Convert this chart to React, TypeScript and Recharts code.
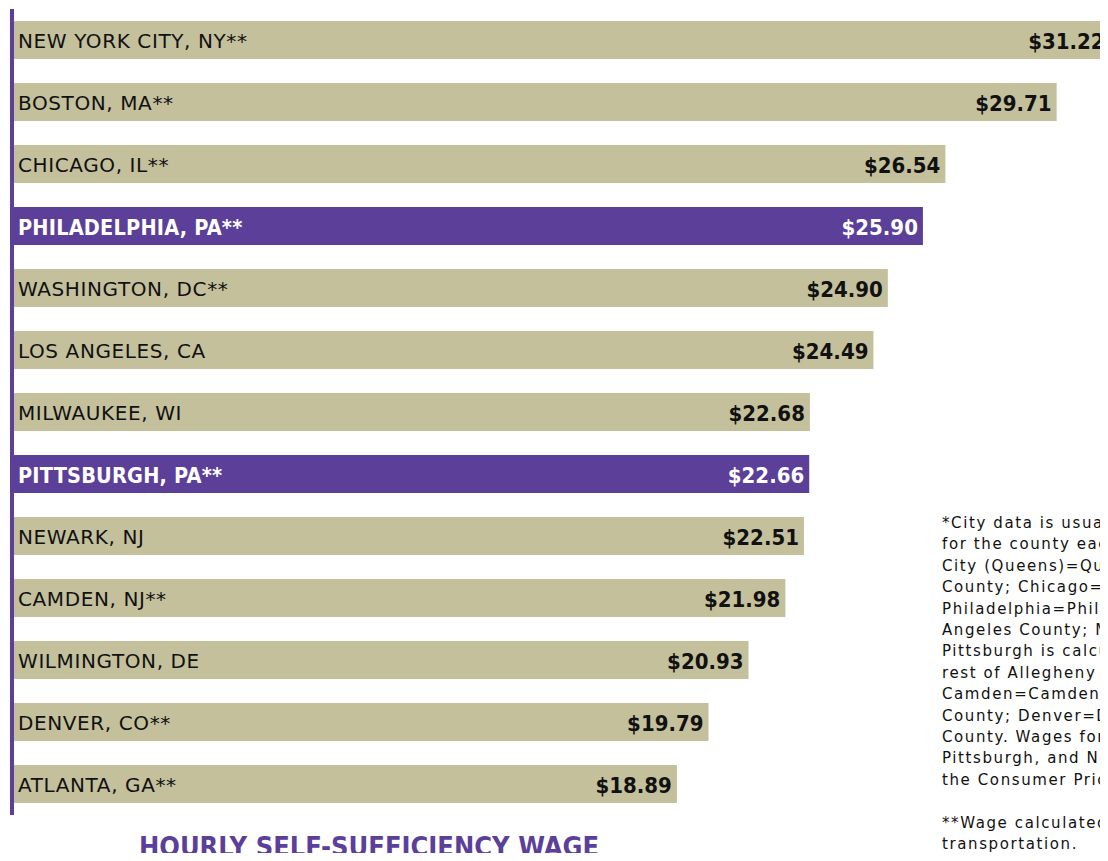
import { BarChart, Bar, XAxis, YAxis, Cell, LabelList } from "recharts";

const cities = [
  "NEW YORK CITY, NY**",
  "BOSTON, MA**",
  "CHICAGO, IL**",
  "PHILADELPHIA, PA**",
  "WASHINGTON, DC**",
  "LOS ANGELES, CA",
  "MILWAUKEE, WI",
  "PITTSBURGH, PA**",
  "NEWARK, NJ",
  "CAMDEN, NJ**",
  "WILMINGTON, DE",
  "DENVER, CO**",
  "ATLANTA, GA**",
];

const wages = [31.22, 29.71, 26.54, 25.9, 24.9, 24.49, 22.68, 22.66, 22.51, 21.98, 20.93, 19.79, 18.89];

const highlighted = [false, false, false, true, false, false, false, true, false, false, false, false, false];

const footnoteLines = [
  "*City data is usually",
  "for the county each",
  "City (Queens)=Queens",
  "County; Chicago=N",
  "Philadelphia=Philadelphia",
  "Angeles County; Milwaukee",
  "Pittsburgh is calculated",
  "rest of Allegheny County",
  "Camden=Camden County",
  "County; Denver=Denver",
  "County. Wages for",
  "Pittsburgh, and Newark",
  "the Consumer Price",
  "",
  "**Wage calculated",
  "transportation.",
];

const TAN = "#c4c09c";
const PURPLE = "#5b3f99";
const SANS = "'DejaVu Sans', sans-serif";
const COND = "'DejaVu Sans Condensed', 'DejaVu Sans', sans-serif";

const data = cities.map((city, i) => ({ city, wage: wages[i], hl: highlighted[i] }));

const renderCity = (props: any) => {
  const { x, y, height, index } = props;
  const hl = highlighted[index];
  return (
    <text
      x={x + 4}
      y={y + height / 2 + 1}
      dominantBaseline="central"
      fontFamily={hl ? COND : SANS}
      fontSize={hl ? 21.5 : 20}
      fontWeight={hl ? "bold" : "normal"}
      letterSpacing={hl ? 0.2 : 0.6}
      fill={hl ? "#ffffff" : "#111111"}
    >
      {cities[index]}
    </text>
  );
};

const renderWage = (props: any) => {
  const { x, y, width, height, index } = props;
  const hl = highlighted[index];
  return (
    <text
      x={x + width - 5}
      y={y + height / 2 + 1}
      dominantBaseline="central"
      textAnchor="end"
      fontFamily={COND}
      fontSize={22}
      fontWeight="bold"
      fill={hl ? "#ffffff" : "#111111"}
    >
      {"$" + wages[index].toFixed(2)}
    </text>
  );
};

export default function App() {
  return (
    <div
      style={{
        position: "relative",
        width: 1108,
        height: 861,
        margin: -8,
        overflow: "hidden",
        background: "#ffffff",
      }}
    >
      <div style={{ position: "absolute", left: 0, top: 0 }}>
        <BarChart
          layout="vertical"
          width={1137}
          height={830}
          data={data}
          margin={{ top: 9, right: 0, bottom: 15, left: 10 }}
        >
          <XAxis type="number" hide domain={[-0.057, 32]} />
          <YAxis
            type="category"
            dataKey="city"
            width={2}
            tick={false}
            tickLine={false}
            axisLine={{ stroke: PURPLE, strokeWidth: 4 }}
          />
          <Bar dataKey="wage" barSize={38} isAnimationActive={false}>
            {data.map((d, i) => (
              <Cell key={i} fill={d.hl ? PURPLE : TAN} />
            ))}
            <LabelList dataKey="city" content={renderCity} />
            <LabelList dataKey="wage" content={renderWage} />
          </Bar>
        </BarChart>
      </div>
      <div
        style={{
          position: "absolute",
          left: 0,
          width: 738,
          top: 833,
          textAlign: "center",
          fontFamily: COND,
          fontWeight: "bold",
          fontSize: 27,
          lineHeight: "27px",
          color: PURPLE,
          whiteSpace: "nowrap",
        }}
      >
        HOURLY SELF-SUFFICIENCY WAGE
      </div>
      <div
        style={{
          position: "absolute",
          left: 942,
          top: 513,
          fontFamily: SANS,
          fontSize: 15,
          lineHeight: "21.4px",
          letterSpacing: 1.6,
          color: "#111111",
          whiteSpace: "pre",
        }}
      >
        {footnoteLines.join("\n")}
      </div>
    </div>
  );
}
